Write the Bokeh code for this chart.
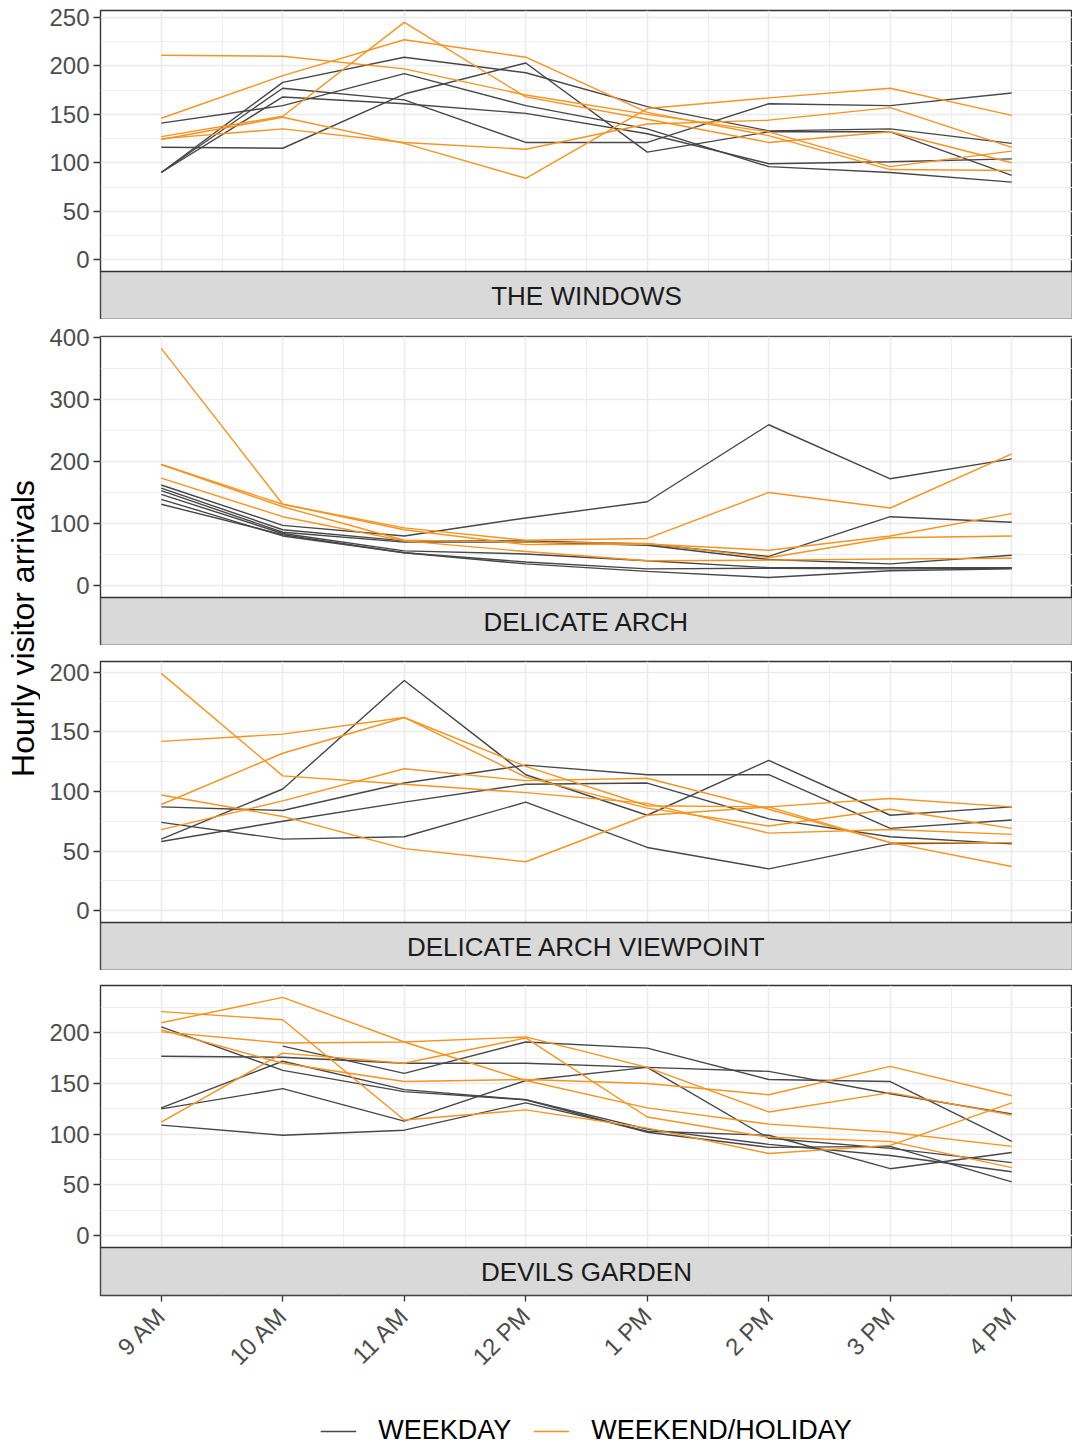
import math
from bokeh.plotting import figure
from bokeh.models import (Range1d, FixedTicker, SingleIntervalTicker, Label, Legend, LegendItem,
                          BoxAnnotation)
from bokeh.layouts import column, row
from bokeh.embed import file_html
from bokeh.resources import INLINE

NaN = float("nan")

hours = [9, 10, 11, 12, 13, 14, 15, 16]
hour_labels = ["9 AM", "10 AM", "11 AM", "12 PM", "1 PM", "2 PM", "3 PM", "4 PM"]
sites = ["THE WINDOWS", "DELICATE ARCH", "DELICATE ARCH VIEWPOINT", "DEVILS GARDEN"]
day_types = ["WEEKDAY", "WEEKEND/HOLIDAY"]
y_label = "Hourly visitor arrivals"

windows_weekday = [
    [90, 183, 209, 193, 158, 133, 135, 120],
    [90, 177, 165, 121, 121, 161, 159, 172],
    [90, 168, 161, 151, 130, 99, 101, 104],
    [141, 159, 192, 159, 135, 96, 90, 80],
    [116, 115, 171, 203, 111, 132, 132, 87],
]
windows_weekend = [
    [211, 210, 197, 170, 150, 132, 96, 112],
    [146, 190, 227, 209, 152, 128, 93, 92],
    [127, 148, 245, 168, 145, 121, 132, 100],
    [125, 135, 121, 114, 140, 144, 157, 116],
    [124, 147, 120, 84, 156, 167, 177, 149],
]

delicate_weekday = [
    [162, 97, 80, 109, 135, 259, 172, 204],
    [157, 90, 72, 72, 67, 47, 111, 102],
    [153, 86, 70, 70, 65, 42, 35, 49],
    [147, 84, 56, 51, 40, 29, 29, 29],
    [139, 80, 53, 38, 27, 28, 27, 28],
    [131, 82, 53, 35, 23, 13, 24, 27],
]
delicate_weekend = [
    [382, 131, 93, 73, 76, 150, 125, 212],
    [195, 131, 90, 66, 67, 57, 80, 116],
    [195, 127, 73, 70, 68, 45, 77, 80],
    [173, 111, 72, 55, 40, 41, 43, 44],
]

viewpoint_weekday = [
    [60, 102, 193, 114, 80, 126, 80, 87],
    [87, 84, 107, 122, 114, 114, 69, 76],
    [74, 60, 62, 91, 53, 35, 56, 57],
    [58, 75, 91, 106, 107, 77, 62, 56],
]
viewpoint_weekend = [
    [199, 113, 106, 99, 90, 65, 68, 64],
    [142, 148, 162, 121, 88, 87, 94, 87],
    [89, 132, 162, 112, 86, 71, 85, 69],
    [97, 79, 52, 41, 80, 87, 57, 57],
    [68, 92, 119, 109, 111, 85, 57, 37],
]

devils_weekday = [
    [206, 163, 142, 134, 105, 90, 79, 63],
    [177, 176, 170, 170, 166, 162, 140, 120],
    [NaN, 187, 160, 191, 185, 154, 152, 93],
    [126, 172, 144, 134, 102, 87, 88, 53],
    [125, 145, 113, 153, 166, 96, 86, 72],
    [109, 99, 104, 131, 103, 99, 66, 82],
]
devils_weekend = [
    [221, 213, 114, 124, 106, 81, 89, 131],
    [210, 235, 191, 153, 126, 110, 102, 88],
    [203, 170, 152, 154, 150, 139, 167, 138],
    [201, 190, 191, 196, 166, 122, 141, 119],
    [112, 180, 170, 195, 117, 97, 93, 67],
]

weekday_series = [windows_weekday, delicate_weekday, viewpoint_weekday, devils_weekday]
weekend_series = [windows_weekend, delicate_weekend, viewpoint_weekend, devils_weekend]
y_tick_step = [50, 100, 50, 50]

# ---- style ----
DARK = "#474747"
ORANGE = "#F7931E"
FONT = "Liberation Sans"
BORDER = "#333333"
GRID = "#EBEBEB"
STRIP_FILL = "#D9D9D9"
FRAME_W = 972
YLAB_W = 40
LEFT = 100 - YLAB_W
PANEL_H = [261, 261, 261, 262]
STRIP_H = 48
TOP_GAP = [10, 17, 16, 15]

x_range = Range1d(hours[0] - 0.5, hours[-1] + 0.5)
minor_x = [(a + b) / 2 for a, b in zip(hours[:-1], hours[1:])]


def make_panel(i, last):
    wd, we = weekday_series[i], weekend_series[i]
    vals = [v for s in wd + we for v in s if not math.isnan(v)]
    vmax = max(vals)
    y_lo, y_hi = -0.05 * vmax, 1.05 * vmax
    # strip below the panel occupies STRIP_H pixels at the same scale
    strip_units = STRIP_H * (y_hi - y_lo) / PANEL_H[i]
    y_bottom = y_lo - strip_units
    p = figure(frame_width=FRAME_W, frame_height=PANEL_H[i] + STRIP_H, x_range=x_range,
               y_range=Range1d(y_bottom, y_hi),
               x_axis_location="below" if last else None,
               toolbar_location=None, output_backend="svg",
               min_border_left=LEFT, min_border_right=0, min_border_top=TOP_GAP[i],
               min_border_bottom=0)
    p.outline_line_color = BORDER
    p.outline_line_width = 1.4
    ticker = SingleIntervalTicker(interval=y_tick_step[i], num_minor_ticks=2)
    p.yaxis.ticker = ticker
    p.yaxis.bounds = (0, y_hi)
    p.ygrid.ticker = ticker
    p.xgrid.ticker = FixedTicker(ticks=hours, minor_ticks=minor_x)
    for g in list(p.xgrid) + list(p.ygrid):
        g.grid_line_color = GRID
        g.grid_line_width = 1.6
        g.minor_grid_line_color = GRID
        g.minor_grid_line_width = 0.9
    ax = p.yaxis[0]
    ax.axis_line_color = None
    ax.major_tick_out = 7
    ax.major_tick_in = 0
    ax.major_tick_line_color = BORDER
    ax.major_tick_line_width = 1.3
    ax.minor_tick_line_color = None
    ax.major_label_text_font = FONT
    ax.major_label_text_font_size = "24px"
    ax.major_label_text_color = "#4D4D4D"
    ax.major_label_standoff = 4
    for s in wd:
        p.line(hours, s, line_color=DARK, line_width=1.4)
    for s in we:
        p.line(hours, s, line_color=ORANGE, line_width=1.4)
    # facet strip
    p.add_layout(BoxAnnotation(top=y_lo, bottom=y_bottom, fill_color=STRIP_FILL, fill_alpha=1,
                               line_color=BORDER, line_width=1.4, line_alpha=1))
    p.add_layout(Label(x=(x_range.start + x_range.end) / 2, y=(y_lo + y_bottom) / 2,
                       text=sites[i], text_align="center", text_baseline="middle",
                       text_font=FONT, text_font_size="26px", text_color="#1A1A1A"))
    if last:
        bx = p.xaxis[0]
        bx.ticker = FixedTicker(ticks=hours)
        bx.major_label_overrides = dict(zip(hours, hour_labels))
        bx.major_label_orientation = math.pi / 4
        bx.axis_line_color = None
        bx.major_tick_out = 6
        bx.major_tick_in = 0
        bx.major_tick_line_color = BORDER
        bx.major_tick_line_width = 1.3
        bx.minor_tick_line_color = None
        bx.major_label_text_font = FONT
        bx.major_label_text_font_size = "24px"
        bx.major_label_text_color = "#4D4D4D"
        bx.major_label_standoff = 10
    return p


def make_legend_fig(height):
    lf = figure(frame_width=FRAME_W, frame_height=height, x_range=x_range, y_range=Range1d(0, 1),
                x_axis_location=None, y_axis_location=None, toolbar_location=None,
                output_backend="svg", min_border_left=LEFT, min_border_right=0,
                min_border_top=0, min_border_bottom=0)
    lf.outline_line_color = None
    lf.grid.visible = False
    # legend key renderers (their data lie outside this empty frame's range)
    r_wd = lf.line(hours, weekday_series[3][0], line_color=DARK, line_width=1.6)
    r_we = lf.line(hours, weekend_series[3][0], line_color=ORANGE, line_width=1.6)
    legend = Legend(items=[LegendItem(label=day_types[0], renderers=[r_wd]),
                           LegendItem(label=day_types[1], renderers=[r_we])],
                    orientation="horizontal", location="bottom_center",
                    label_text_font=FONT, label_text_font_size="27px",
                    label_text_color="black", glyph_width=36, glyph_height=24,
                    label_standoff=22, spacing=22, border_line_color=None,
                    background_fill_alpha=0, margin=0, padding=2,
                    label_height=28)
    lf.add_layout(legend, "center")
    return lf


children = [make_panel(i, i == 3) for i in range(4)]
children.append(make_legend_fig(64))
main = column(*children)

YLAB_H = 1300
ylab = figure(width=YLAB_W, height=YLAB_H, x_range=Range1d(0, YLAB_W), y_range=Range1d(0, YLAB_H),
              x_axis_location=None, y_axis_location=None, toolbar_location=None,
              output_backend="svg", min_border=0)
ylab.outline_line_color = None
ylab.grid.visible = False
ylab.add_layout(Label(x=22, y=YLAB_H - 628, text=y_label, angle=math.pi / 2,
                      text_align="center", text_baseline="middle", text_font=FONT,
                      text_font_size="32px", text_color="black"))

layout = row(ylab, main)
open("out.html", "w").write(file_html(layout, INLINE))
